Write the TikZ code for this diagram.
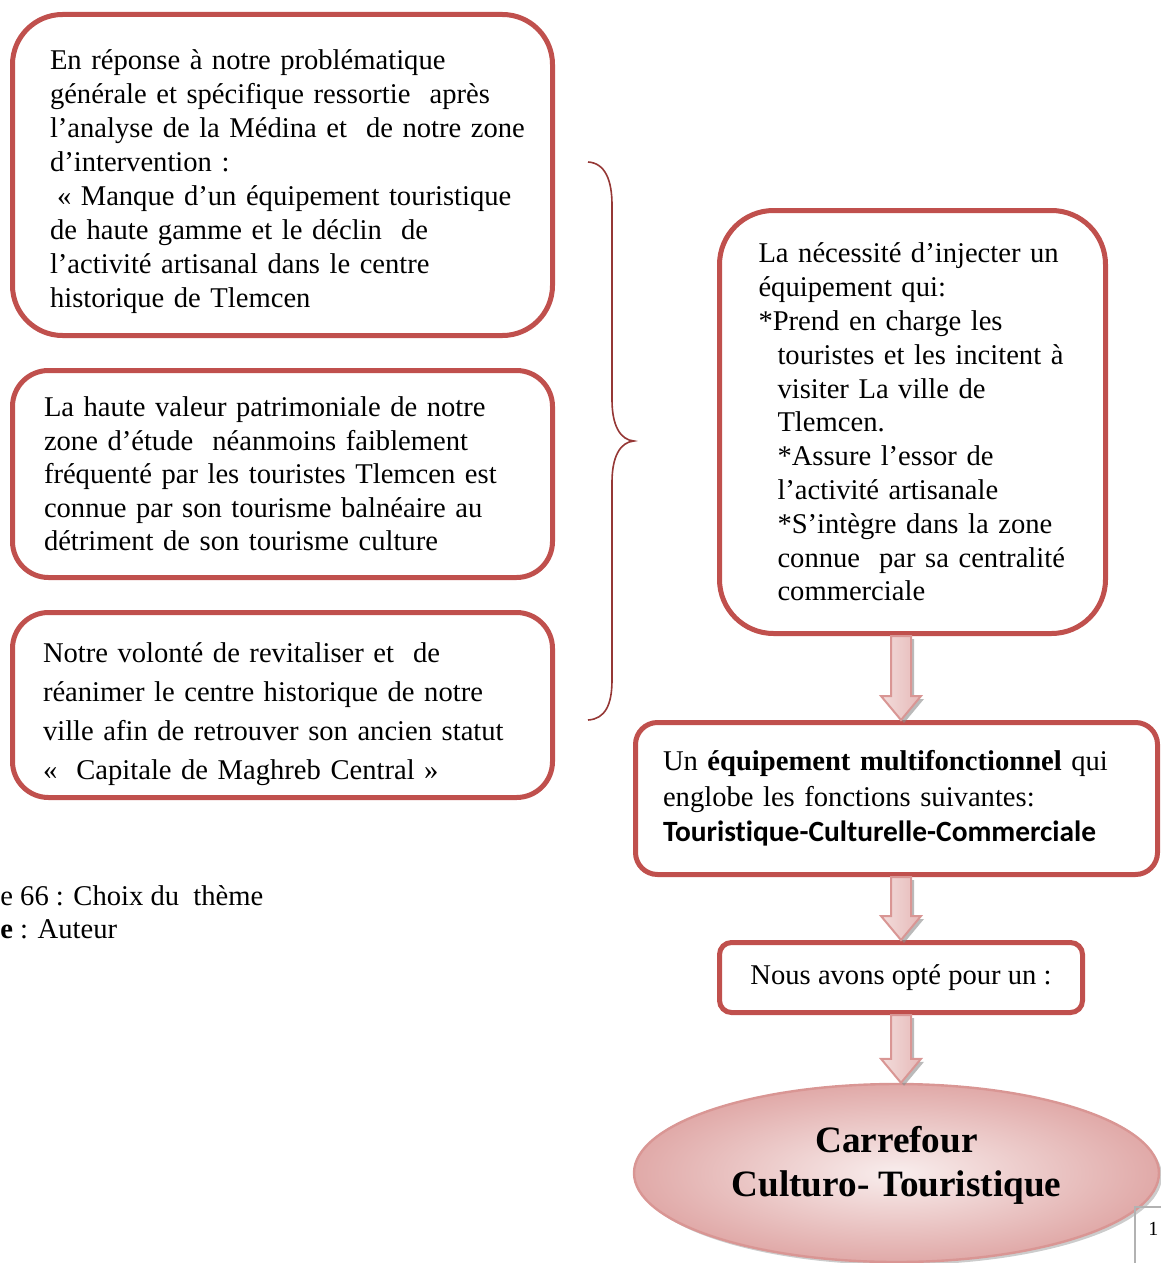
\documentclass[tikz,border=0pt]{standalone}
\usepackage{fontspec}
\setmainfont{Liberation Serif}
\newfontfamily\calibri[Ligatures={NoCommon,NoContextual}]{Carlito}
\usetikzlibrary{calc,shapes.geometric,shadows}
\definecolor{BoxRed}{HTML}{C0504D}
\definecolor{BraceRed}{HTML}{953735}
\definecolor{PinkEdge}{HTML}{D99694}
\definecolor{PinkLight}{HTML}{F2DCDB}
\definecolor{PinkMid}{HTML}{E6B9B8}
\newcommand\ind{\hspace*{9.5pt}}
\newcommand\nohyph{\hyphenpenalty=10000\exhyphenpenalty=10000}
\tikzset{box/.style={draw=BoxRed,line width=2.5pt,fill=white,align=left,font=\fontsize{14.3}{17}\selectfont\nohyph},fatarr/.style={draw=PinkEdge,line width=1pt,left color=PinkLight,right color=PinkMid,drop shadow={shadow xshift=1.5pt,shadow yshift=-1.5pt,fill=black!45,opacity=.6}}}
\newcommand\fatarrow[2]{\path[fatarr] let \p1=(axis|-#1.south), \p2=(axis|-#2.north) in (\x1-5pt,\y1) -- (\x1+5pt,\y1) -- (\x1+5pt,\y2+12pt) -- (\x1+10pt,\y2+12pt) -- (\x1,\y2) -- (\x1-10pt,\y2+12pt) -- (\x1-5pt,\y2+12pt) -- cycle;}

\begin{document}
\begin{tikzpicture}[x=0.5pt,y=-0.5pt]
\useasboundingbox (0,0) rectangle (1161,1263);
\clip (0,0) rectangle (1161,1263);
\node[box,rounded corners=25pt,minimum height=160.5pt,inner xsep=18.75pt,text width=232.5pt] (problem) at (282.5,175) {\mbox{}\\[-0.5pt]En réponse à notre problématique\\générale et spécifique ressortie~~après\\\mbox{l’analyse de la Médina et~~de notre zone}\\d’intervention :\\\mbox{\hspace*{3.5pt}«~Manque d’un équipement touristique}\\de haute gamme et le déclin~~de\\l’activité artisanal dans le centre\\historique de Tlemcen};
\node[box,rounded corners=18pt,minimum height=103.5pt,inner xsep=15.75pt,text width=238.5pt,font=\fontsize{14.3}{16.75}\selectfont\nohyph] (heritage) at (282.5,474) {La haute valeur patrimoniale de notre\\zone d’étude~~néanmoins faiblement\\fréquenté par les touristes Tlemcen est\\connue par son tourisme balnéaire au\\détriment de son tourisme culture};
\node[box,rounded corners=18pt,minimum height=92.5pt,inner xsep=15.25pt,text width=239.5pt,font=\fontsize{14.3}{19.5}\selectfont\nohyph] (will) at (282.5,705) {\mbox{}\\[-0.5pt]Notre volonté de revitaliser et~~de\\réanimer le centre historique de notre\\ville afin de retrouver son ancien statut\\«~~Capitale de Maghreb Central »};
\node[box,rounded corners=27pt,minimum height=211.5pt,inner xsep=19.5pt,text width=154pt,font=\fontsize{14.3}{16.9}\selectfont\nohyph] (need) at (912.5,422) {La nécessité d’injecter un\\équipement qui:\\{}*Prend en charge les\\\ind touristes et les incitent à\\\ind visiter La ville de\\\ind Tlemcen.\\\ind *Assure l’essor de\\\ind l’activité artisanale\\\ind *S’intègre dans la zone\\\ind connue~~par sa centralité\\\ind commerciale};
\node[box,rounded corners=11pt,minimum height=76pt,inner xsep=13.75pt,text width=233.5pt,font=\fontsize{14.3}{17.75}\selectfont\nohyph] (multi) at (896.5,798.5) {Un \textbf{équipement multifonctionnel} qui\\englobe les fonctions suivantes:\\{\calibri\bfseries\fontsize{14.7}{17.75}\selectfont Touristique-Culturelle-Commerciale}};
\node[box,rounded corners=6pt,minimum width=181.5pt,minimum height=35pt] (choice) at (901,977.5) {Nous avons opté pour un :};
\node[ellipse,draw=PinkEdge,line width=1.2pt,inner color=PinkLight!50!white,outer color=PinkMid!85!BoxRed,drop shadow={shadow xshift=1.5pt,shadow yshift=-1.5pt,fill=black!40,opacity=.5},minimum width=262.5pt,minimum height=89pt,align=center,font=\fontsize{18.6}{22}\selectfont\bfseries] (carrefour) at (896.5,1173) {Carrefour\\Culturo- Touristique\\[-10.5pt]\mbox{}};
\draw[BraceRed,line width=0.8pt] (588,162) .. controls (605,163) and (612,180) .. (612,205) -- (612,400) .. controls (612,425) and (620,440) .. (634,441) .. controls (620,442) and (612,457) .. (612,482) -- (612,680) .. controls (612,705) and (605,719) .. (588,720);
\coordinate (axis) at (901,0);
\fatarrow{need}{multi} \fatarrow{multi}{choice} \fatarrow{choice}{carrefour}
\node[anchor=west,inner sep=0pt,font=\fontsize{14.3}{16.5}\selectfont] (figcap) at (0,896) {e 66 : Choix du~~thème};
\node[anchor=west,inner sep=0pt,font=\fontsize{14.3}{16.5}\selectfont] (source) at (0,929) {\textbf{e} : Auteur};
\draw[gray!60,line width=0.6pt] (1135,1263) -- (1135,1207) -- (1161,1207);
\node[anchor=west,inner sep=0pt,font=\fontsize{10}{12}\selectfont] (pagenum) at (1148,1229) {1};
\end{tikzpicture}
\end{document}
